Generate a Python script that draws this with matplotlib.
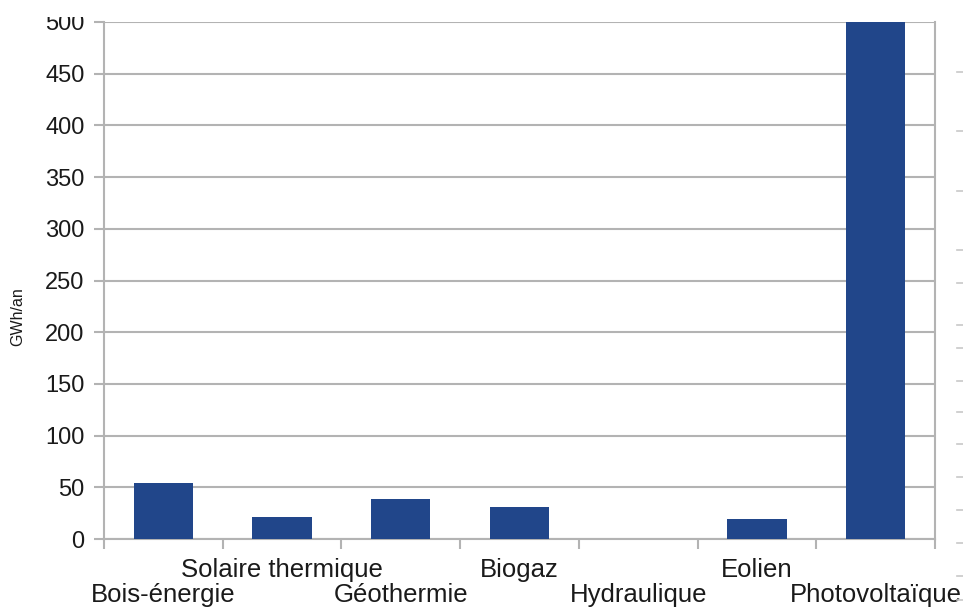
import matplotlib
import matplotlib.pyplot as plt
import matplotlib.transforms as mtransforms
from matplotlib.lines import Line2D
import numpy as np

matplotlib.use('Agg')

categories = ["Bois-énergie", "Solaire thermique", "Géothermie", "Biogaz",
              "Hydraulique", "Eolien", "Photovoltaïque"]
values = [54, 21, 39, 31, 0, 19, 500]
y_ticks = [0, 50, 100, 150, 200, 250, 300, 350, 400, 450, 500]

bar_color = '#21468a'
grid_color = '#b3b3b3'
text_color = '#1a1a1a'

plt.rcParams['font.family'] = ['Liberation Sans', 'DejaVu Sans']

fig = plt.figure(figsize=(9.63, 6.10), dpi=100)
ax = fig.add_axes([104 / 963, 71 / 610, 831 / 963, 517 / 610])

x = np.arange(len(categories))
ax.bar(x, values, width=0.5, color=bar_color, zorder=3)

ax.set_xlim(-0.5, len(categories) - 0.5)
ax.set_ylim(0, 500)
ax.set_yticks(y_ticks)
ax.set_yticklabels([str(v) for v in y_ticks])
ax.yaxis.grid(True, color=grid_color, linewidth=1.5, zorder=0)
ax.tick_params(axis='y', length=7, width=1.5, color=grid_color, pad=7,
               labelsize=17, labelcolor=text_color)

# category boundaries as ticks, labels drawn by hand (staggered)
ax.set_xticks(np.arange(len(categories) + 1) - 0.5)
ax.set_xticklabels([])
ax.tick_params(axis='x', length=7.5, width=1.5, color=grid_color)

trans = mtransforms.blended_transform_factory(ax.transData, fig.transFigure)
for i, name in enumerate(categories):
    ypos = 0.0245 if i % 2 == 0 else 0.066
    ax.text(x[i], ypos, name, transform=trans, ha='center', va='center',
            fontsize=18.5, color=text_color, clip_on=False)

for side in ['left', 'bottom', 'right']:
    ax.spines[side].set_color(grid_color)
    ax.spines[side].set_linewidth(1.5)
ax.spines['top'].set_visible(False)

fig.text(18 / 963, 1 - 317 / 610, "GWh/an", rotation=90, ha='center', va='center',
         fontsize=11.5, color=text_color)

# faint marks at the right edge of the original picture
marks = [72, 131, 191, 250, 283, 325, 348, 381, 412, 444, 477, 510, 543, 576, 600]
for m in marks:
    fig.add_artist(Line2D([957 / 963, 963 / 963], [1 - m / 610, 1 - m / 610],
                          transform=fig.transFigure, color='#c8c8c8', linewidth=1.2))

# the original picture is cropped through the top label
clip = mtransforms.TransformedBbox(mtransforms.Bbox([[0, 0], [1, 1 - 17 / 610]]), fig.transFigure)
for lbl in ax.get_yticklabels():
    lbl.set_clip_on(True)
    lbl.set_clip_box(clip)

fig.savefig('out.png', dpi=100)
plt.close(fig)
